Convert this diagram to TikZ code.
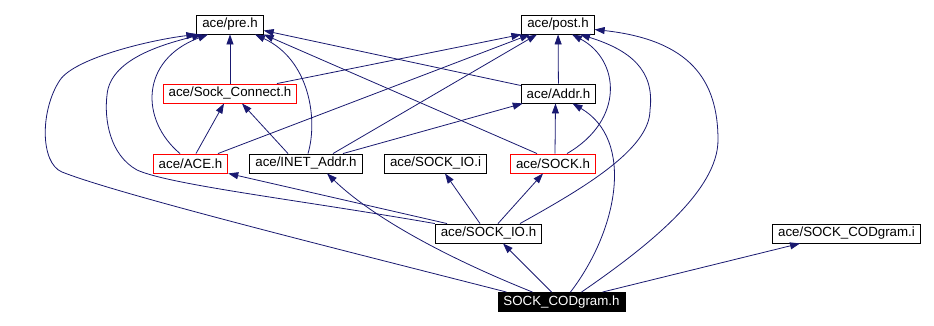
\documentclass[tikz,border=0pt]{standalone}
\usepackage{fontspec}
\setmainfont{Liberation Sans}
\usetikzlibrary{arrows.meta}
\definecolor{depblue}{HTML}{191970}
\tikzset{
	file/.style={draw,line width=0.9pt,inner xsep=5.5pt,inner ysep=0pt,minimum height=19pt,
		font=\fontsize{13.3}{15}\selectfont},
	redfile/.style={file,draw=red},
	dep/.style={color=depblue,line width=0.8pt,-{Triangle[length=10pt,width=7pt]}}
}
\begin{document}
\begin{tikzpicture}[x=1pt,y=-1pt]
	\useasboundingbox (0,0) rectangle (934,326);
	% headers, row by row
	\node[file] (pre) at (230,24.5) {ace/pre.h};
	\node[file] (post) at (558,24.5) {ace/post.h};
	\node[redfile] (sconn) at (230,93.5) {ace/Sock\_Connect.h};
	\node[file] (addr) at (558.5,93.5) {ace/Addr.h};
	\node[redfile] (ace) at (190.5,163.5) {ace/ACE.h};
	\node[file] (inet) at (306,163.5) {ace/INET\_Addr.h};
	\node[file] (ioi) at (435.5,163.5) {ace/SOCK\_IO.i};
	\node[redfile] (sock) at (553,163.5) {ace/SOCK.h};
	\node[file] (ioh) at (488.5,233.5) {ace/SOCK\_IO.h};
	\node[file] (codi) at (846.5,233.5) {ace/SOCK\_CODgram.i};
	\node[file,fill=black,text=white] (cod) at (561.5,302) {SOCK\_CODgram.h};
	% SOCK_CODgram.h
	\draw[dep] ([xshift=-55pt]cod.north) .. controls (350,252) and (120,195) .. (62,172)
		.. controls (40,163) and (40,110) .. (60,80)
		.. controls (75,58) and (150,40) .. (pre.south west);
	\draw[dep] ([xshift=-29pt]cod.north) .. controls (440,255) and (370,215) .. ([xshift=21pt]inet.south);
	\draw[dep] ([xshift=-10pt]cod.north) -- ([xshift=14.5pt]ioh.south);
	\draw[dep] ([xshift=9pt]cod.north) .. controls (618,230) and (635,140) .. ([xshift=14pt]addr.south);
	\draw[dep] ([xshift=20pt]cod.north) .. controls (650,245) and (718,190) .. (718,140)
		.. controls (718,80) and (690,40) .. ([yshift=-5pt]post.east);
	\draw[dep] ([xshift=41pt]cod.north) -- ([xshift=-46.5pt]codi.south);
	% SOCK_IO.h
	\draw[dep] (ioh.north west) .. controls (300,200) and (170,185) .. (137,170)
		.. controls (110,155) and (104,120) .. (107,95)
		.. controls (110,60) and (160,45) .. ([xshift=-28pt]pre.south);
	\draw[dep] ([xshift=-41.5pt]ioh.north) -- (ace.south east);
	\draw[dep] ([xshift=-8.5pt]ioh.north) -- ([xshift=9.5pt]ioi.south);
	\draw[dep] ([xshift=9.5pt]ioh.north) -- ([xshift=-10pt]sock.south);
	\draw[dep] ([xshift=31.5pt]ioh.north) .. controls (580,190) and (650,150) .. (650,110)
		.. controls (655,70) and (630,50) .. ([xshift=22pt]post.south);
	% ACE.h, INET_Addr.h, SOCK.h
	\draw[dep] ([xshift=-10.5pt]ace.north) .. controls (140,120) and (140,60) .. ([xshift=-22pt]pre.south);
	\draw[dep] ([xshift=5.5pt]ace.north) -- ([xshift=-6pt]sconn.south);
	\draw[dep] ([xshift=27.5pt]ace.north) -- ([xshift=-28pt]post.south);
	\draw[dep] ([xshift=2pt]inet.north) .. controls (318,120) and (310,60) .. ([xshift=25pt]pre.south);
	\draw[dep] ([xshift=-18pt]inet.north) -- ([xshift=12pt]sconn.south);
	\draw[dep] ([xshift=27pt]inet.north) -- ([xshift=-21pt]post.south);
	\draw[dep] ([xshift=37pt]inet.north) -- ([xshift=2pt]addr.south west);
	\draw[dep] ([xshift=-16pt]sock.north) -- (pre.south east);
	\draw[dep] ([xshift=2pt]sock.north) -- ([xshift=-3pt]addr.south);
	\draw[dep] ([xshift=14pt]sock.north) .. controls (625,120) and (620,60) .. ([xshift=14pt]post.south);
	% Sock_Connect.h, Addr.h
	\draw[dep] (sconn) -- (pre);
	\draw[dep] ([xshift=47pt]sconn.north) -- (post.south west);
	\draw[dep] ([yshift=8pt]addr.west) -- ([yshift=-6pt]pre.east);
	\draw[dep] (addr) -- (post);
\end{tikzpicture}
\end{document}
